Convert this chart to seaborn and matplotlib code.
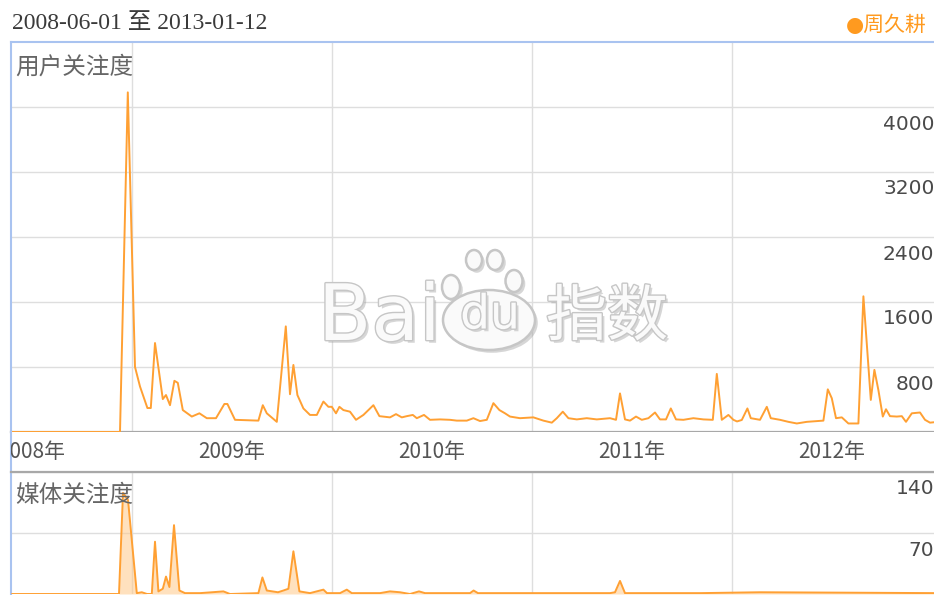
import numpy as np
import pandas as pd
import matplotlib
matplotlib.use("Agg")
import matplotlib.pyplot as plt
import seaborn as sns
from matplotlib import transforms
from matplotlib.patches import Ellipse
import matplotlib.patheffects as pe

# ---------------- data (time in decimal years) ----------------
user_t = [2008.400, 2008.940, 2008.979, 2009.015, 2009.040, 2009.077, 2009.094, 2009.115,
          2009.154, 2009.170, 2009.190, 2009.212, 2009.229, 2009.254, 2009.299, 2009.337,
          2009.374, 2009.420, 2009.462, 2009.477, 2009.515, 2009.632, 2009.654, 2009.674,
          2009.724, 2009.769, 2009.790, 2009.807, 2009.827, 2009.857, 2009.890, 2009.924,
          2009.957, 2009.982, 2009.999, 2010.020, 2010.037, 2010.057, 2010.090, 2010.120,
          2010.157, 2010.207, 2010.237, 2010.290, 2010.320, 2010.349, 2010.374, 2010.404,
          2010.424, 2010.460, 2010.490, 2010.540, 2010.590, 2010.624, 2010.674, 2010.707,
          2010.740, 2010.774, 2010.807, 2010.837, 2010.865, 2010.890, 2010.940, 2011.007,
          2011.057, 2011.099, 2011.124, 2011.154, 2011.182, 2011.224, 2011.274, 2011.324,
          2011.390, 2011.420, 2011.440, 2011.465, 2011.490, 2011.520, 2011.549, 2011.582,
          2011.615, 2011.640, 2011.670, 2011.694, 2011.720, 2011.757, 2011.807, 2011.857,
          2011.904, 2011.924, 2011.949, 2011.982, 2012.007, 2012.025, 2012.049, 2012.077,
          2012.094, 2012.140, 2012.174, 2012.194, 2012.240, 2012.282, 2012.324, 2012.374,
          2012.457, 2012.479, 2012.499, 2012.520, 2012.549, 2012.582, 2012.632, 2012.657,
          2012.694, 2012.712, 2012.732, 2012.754, 2012.770, 2012.790, 2012.824, 2012.849,
          2012.870, 2012.899, 2012.940, 2012.965, 2012.990, 2013.030]
user_v = [0, 0, 4180, 800, 560, 295, 295, 1095,
          405, 455, 330, 630, 605, 270, 190, 230,
          170, 170, 345, 345, 150, 140, 330, 230,
          125, 1300, 465, 825, 455, 290, 210, 210,
          375, 310, 310, 230, 310, 270, 250, 150,
          210, 330, 195, 180, 220, 180, 195, 210,
          170, 210, 150, 155, 150, 140, 140, 170,
          135, 150, 355, 270, 230, 190, 170, 180,
          140, 115, 170, 250, 170, 155, 170, 155,
          170, 150, 475, 155, 140, 190, 150, 170,
          240, 155, 155, 290, 155, 150, 170, 155,
          150, 715, 150, 210, 150, 130, 148, 290,
          170, 150, 310, 170, 150, 125, 105, 125,
          140, 525, 415, 170, 180, 105, 105, 1670,
          395, 765, 515, 190, 280, 195, 190, 195,
          125, 230, 240, 150, 115, 125]

media_t = [2008.400, 2008.935, 2008.955, 2008.980, 2009.024, 2009.049, 2009.075, 2009.099,
           2009.115, 2009.132, 2009.154, 2009.170, 2009.187, 2009.210, 2009.237, 2009.265,
           2009.340, 2009.400, 2009.457, 2009.490, 2009.632, 2009.652, 2009.674, 2009.730,
           2009.757, 2009.782, 2009.807, 2009.837, 2009.890, 2009.957, 2009.975, 2010.040,
           2010.074, 2010.099, 2010.240, 2010.290, 2010.340, 2010.390, 2010.435, 2010.465,
           2010.690, 2010.708, 2010.730, 2011.390, 2011.415, 2011.440, 2011.465, 2011.840,
           2012.140, 2013.030]
media_v = [0, 0, 116, 108, 1, 2, 0, 0,
           60, 3, 6, 20, 8, 79, 4, 1,
           1, 2, 3, 0, 1, 19, 4, 2,
           4, 6, 49, 3, 1, 5, 1, 1,
           5, 1, 1, 3, 2, 0, 3, 1,
           1, 4, 1, 1, 2, 15, 1, 1,
           2, 1]

year_grid = [2009, 2010, 2011, 2012]
year_label_pos = [2008.5, 2009.5, 2010.5, 2011.5, 2012.5]
year_labels = ["2008年", "2009年", "2010年", "2011年", "2012年"]
user_ticks = [800, 1600, 2400, 3200, 4000]
media_ticks = [70, 140]
date_range_text = "2008-06-01 至 2013-01-12"
series_name = "周久耕"

# ---------------- style ----------------
sns.set_theme(style="white")
plt.rcParams["font.family"] = ["DejaVu Sans", "Noto Sans CJK SC"]

ORANGE = "#ffa033"
GRID = "#dedede"
BLUE = "#a9c3f0"
GRAYLINE = "#a8a8a8"

W, H = 934, 595
fig = plt.figure(figsize=(W / 100, H / 100), dpi=100)
fig.patch.set_facecolor("white")

def fx(px):
    return px / W

def fy(py):
    return 1 - py / H

XL, XR = 11, 939
T0, T1 = 2008.395, 2013.035
axw = (XR - XL) / W

ax1 = fig.add_axes([fx(XL), fy(432), axw, (432 - 42) / H])
band = fig.add_axes([fx(XL), fy(472), axw, (472 - 432) / H])
ax2 = fig.add_axes([fx(XL), fy(594), axw, (594 - 472) / H])

for ax in (ax1, band, ax2):
    ax.set_xlim(T0, T1)
    ax.set_facecolor("white")
    for s in ax.spines.values():
        s.set_visible(False)
    ax.tick_params(length=0, labelleft=False, labelbottom=False)
    ax.set_xlabel("")
    ax.set_ylabel("")

# top panel
ax1.set_ylim(0, 4800)
ax1.set_xticks(year_grid)
ax1.set_yticks(user_ticks)
ax1.grid(True, color=GRID, lw=1.0)
ax1.spines["left"].set_visible(True)
ax1.spines["left"].set_color(BLUE)
ax1.spines["left"].set_linewidth(1.5)
ax1.spines["top"].set_visible(True)
ax1.spines["top"].set_color(BLUE)
ax1.spines["top"].set_linewidth(1.5)
ax1.spines["bottom"].set_visible(True)
ax1.spines["bottom"].set_color(GRAYLINE)
ax1.spines["bottom"].set_linewidth(1.6)

df_user = pd.DataFrame({"t": user_t, "v": user_v})
sns.lineplot(data=df_user, x="t", y="v", ax=ax1, color=ORANGE, linewidth=1.4,
             estimator=None, sort=False, zorder=5)
ax1.set_xlabel("")
ax1.set_ylabel("")

# label band
band.set_ylim(0, 1)
band.set_xticks([])
band.set_yticks([])
band.spines["left"].set_visible(True)
band.spines["left"].set_color(BLUE)
band.spines["left"].set_linewidth(1.5)
for t, lab in zip(year_label_pos, year_labels):
    band.text(t, 0.5, lab, ha="center", va="center", fontsize=15, color="#555555",
              family=["Noto Sans CJK SC", "DejaVu Sans"], clip_on=True)

# bottom panel
ax2.set_ylim(0, 140)
ax2.set_xticks(year_grid)
ax2.set_yticks(media_ticks)
ax2.grid(True, color=GRID, lw=1.0)
ax2.spines["left"].set_visible(True)
ax2.spines["left"].set_color(BLUE)
ax2.spines["left"].set_linewidth(1.5)
ax2.spines["top"].set_visible(True)
ax2.spines["top"].set_color(GRAYLINE)
ax2.spines["top"].set_linewidth(1.6)
ax2.fill_between(media_t, media_v, 0, color="#ffc98a", alpha=0.55, lw=0, zorder=4)
df_media = pd.DataFrame({"t": media_t, "v": media_v})
sns.lineplot(data=df_media, x="t", y="v", ax=ax2, color=ORANGE, linewidth=1.4,
             estimator=None, sort=False, zorder=5)
ax2.set_xlabel("")
ax2.set_ylabel("")

# y value labels (inside, right edge, just below each grid line)
for ax, ticks in ((ax1, user_ticks), (ax2, media_ticks)):
    tr = transforms.blended_transform_factory(fig.transFigure, ax.transData) + \
        transforms.ScaledTranslation(0, -17 / 100, fig.dpi_scale_trans)
    for v in ticks:
        ax.text(1.0005, v, f"{v}", transform=tr, ha="right", va="center",
                fontsize=14.5, color="#4a4a4a", family="DejaVu Sans", clip_on=False, zorder=6)

# panel titles
fig.text(fx(15), fy(67), "用户关注度", ha="left", va="center", fontsize=17,
         color="#666666", family=["Noto Sans CJK SC"])
fig.text(fx(15), fy(496), "媒体关注度", ha="left", va="center", fontsize=17,
         color="#666666", family=["Noto Sans CJK SC"])

# header
fig.text(fx(12), fy(23), date_range_text, ha="left", va="center", fontsize=17,
         color="#3a3a3a", family=["Liberation Serif", "Noto Sans CJK SC"])
fig.text(fx(927), fy(25), "●" + series_name, ha="right", va="center", fontsize=15,
         color="#ff9a1f", family=["DejaVu Sans", "Noto Sans CJK SC"])

# watermark
wm_fx = [pe.SimplePatchShadow(offset=(2, -2), shadow_rgbFace="#9a9a9a", alpha=0.4),
         pe.withStroke(linewidth=2.0, foreground="#c6c6c6")]
fig.text(fx(318), fy(318), "Bai", ha="left", va="center", fontsize=56, color="#fafafa",
         family="DejaVu Sans", path_effects=wm_fx, zorder=3)
for (cx, cy, w, h) in [(451, 287, 18, 24), (474, 260, 16, 20), (495, 260, 16, 20),
                       (514, 281, 17, 22), (489, 320, 92, 60)]:
    e = Ellipse((fx(cx), fy(cy)), w / W, h / H, transform=fig.transFigure,
                facecolor="#fafafa", edgecolor="#c6c6c6", lw=1.8, zorder=2.5,
                path_effects=[pe.SimplePatchShadow(offset=(2, -2), shadow_rgbFace="#9a9a9a", alpha=0.4),
                              pe.Normal()])
    fig.add_artist(e)
fig.text(fx(490), fy(316), "du", ha="center", va="center", fontsize=34, color="#fafafa",
         family="DejaVu Sans", path_effects=wm_fx, zorder=3)
fig.text(fx(607), fy(318), "指数", ha="center", va="center", fontsize=44, color="#fafafa",
         family=["Noto Sans CJK SC"], path_effects=wm_fx, zorder=3)

fig.savefig("out.png", dpi=100, facecolor="white")
